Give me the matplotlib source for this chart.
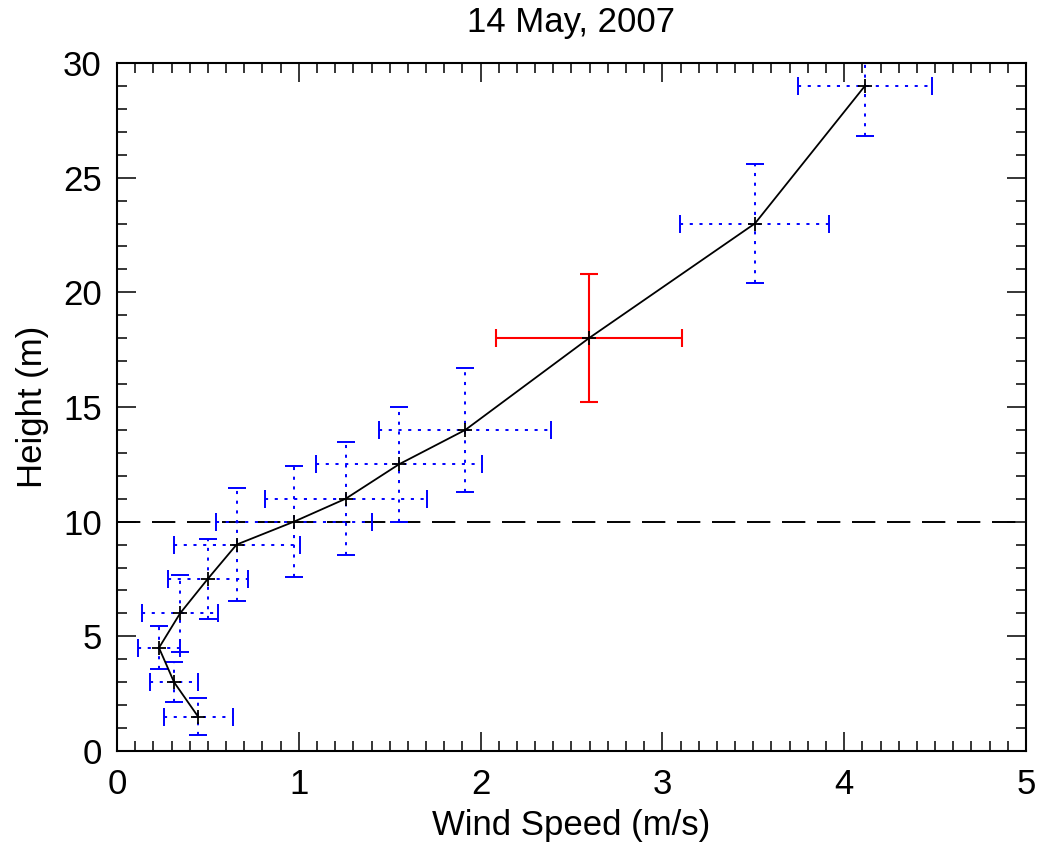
import matplotlib
matplotlib.use('Agg')
import matplotlib.pyplot as plt
from matplotlib.ticker import MultipleLocator

plt.rcParams['font.family'] = ['Liberation Sans', 'DejaVu Sans']

# wind speed profile, 14 May 2007
height = [1.5, 3.0, 4.5, 6.0, 7.5, 9.0, 10.0, 11.0, 12.5, 14.0, 18.0, 23.0, 29.0]
speed = [0.446, 0.314, 0.231, 0.347, 0.499, 0.658, 0.974, 1.258, 1.551, 1.916, 2.596, 3.509, 4.114]
speed_err = [0.19, 0.133, 0.115, 0.207, 0.22, 0.347, 0.43, 0.445, 0.455, 0.473, 0.51, 0.41, 0.37]
height_err = [0.82, 0.86, 0.93, 1.67, 1.76, 2.45, 2.42, 2.46, 2.51, 2.69, 2.8, 2.6, 2.17]
ref_idx = 10       # the highlighted level (red)
ref_height = 10.0  # dashed line

fig = plt.figure(figsize=(10.37, 8.44), dpi=100)
ax = fig.add_axes([0.1128, 0.1102, 0.8766, 0.8152])

for i in range(len(height)):
    if i == ref_idx:
        col, ls = 'red', '-'
        lw = 1.5
    else:
        col, ls = 'blue', (0, (1.6, 3.4))
        lw = 1.4
    eb = ax.errorbar(speed[i], height[i], xerr=speed_err[i], yerr=height_err[i],
                     fmt='none', ecolor=col, elinewidth=lw, capsize=6.5, capthick=lw, zorder=2)
    for c in eb[2]:
        c.set_linestyle(ls)

ax.axhline(ref_height, color='black', lw=1.4, linestyle=(0, (12, 6)), zorder=1)
ax.plot(speed, height, color='black', lw=1.3, marker='+', ms=9.5, mew=1.3, zorder=3)

ax.set_xlim(0, 5)
ax.set_ylim(0, 30)
ax.xaxis.set_major_locator(MultipleLocator(1))
ax.xaxis.set_minor_locator(MultipleLocator(0.1))
ax.yaxis.set_major_locator(MultipleLocator(5))
ax.yaxis.set_minor_locator(MultipleLocator(1))
ax.tick_params(which='both', direction='in', top=True, right=True, labelsize=25, width=1.1)
ax.tick_params(axis='x', which='major', length=13.5, pad=12)
ax.tick_params(axis='y', which='major', length=13.5, pad=11)
ax.tick_params(which='minor', length=7)
for s in ax.spines.values():
    s.set_linewidth(1.5)

ax.set_xlabel('Wind Speed (m/s)', fontsize=25, labelpad=6)
ax.set_ylabel('Height (m)', fontsize=25, labelpad=10)
ax.set_title('14 May, 2007', fontsize=25, pad=22)

fig.savefig('out.png', dpi=100)
